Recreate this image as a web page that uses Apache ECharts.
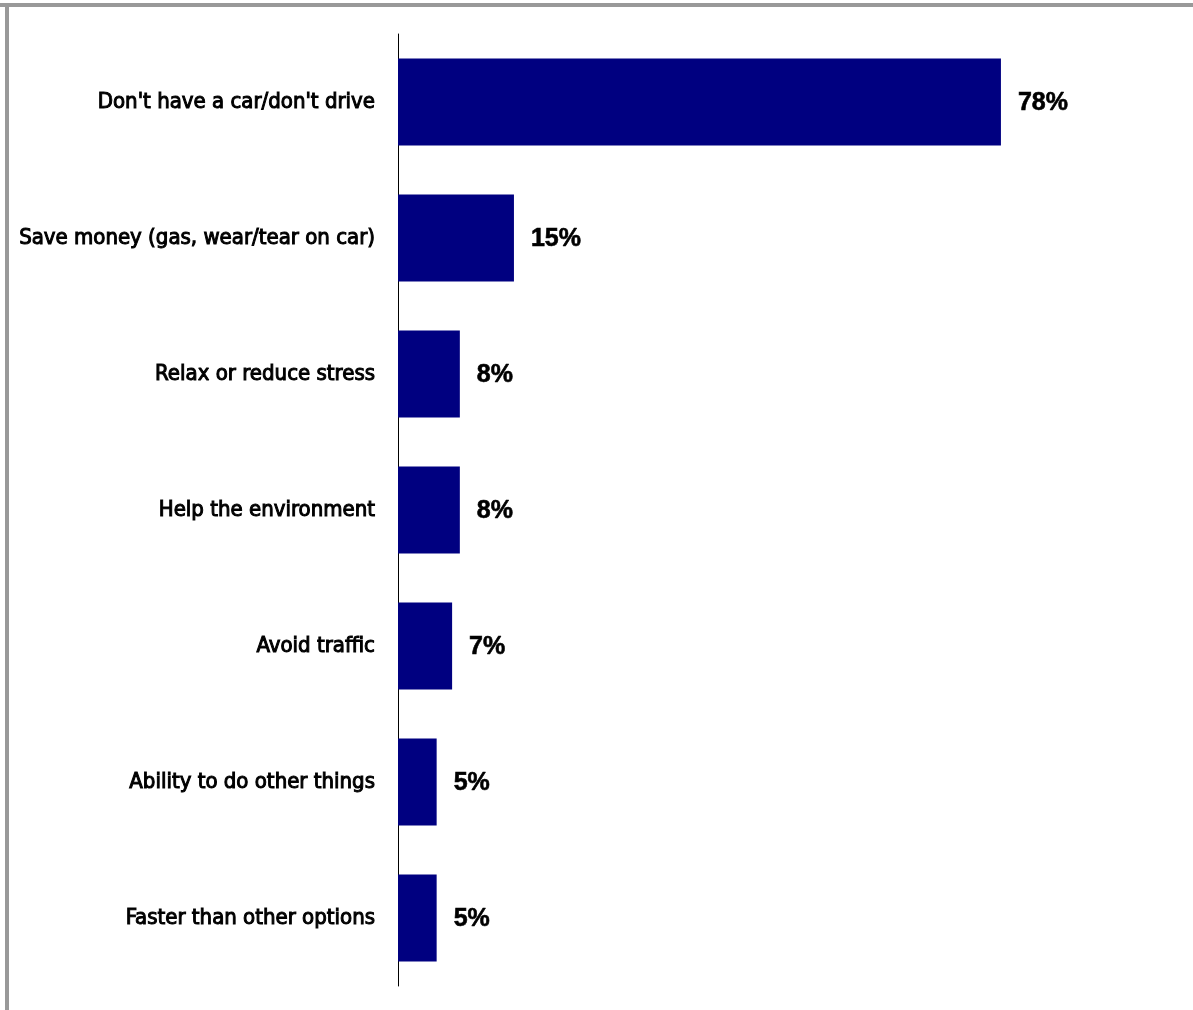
<!DOCTYPE html>
<html>
<head>
<meta charset="utf-8">
<script src="https://cdn.jsdelivr.net/npm/echarts@6/dist/echarts.min.js"></script>
<style>
  html, body { margin: 0; padding: 0; background: #fff; }
  #chart { width: 1193px; height: 1010px; }
</style>
</head>
<body>
<div id="chart"></div>
<script>
// Reasons given, top to bottom
const reasons = [
  "Don't have a car/don't drive",
  "Save money (gas, wear/tear on car)",
  "Relax or reduce stress",
  "Help the environment",
  "Avoid traffic",
  "Ability to do other things",
  "Faster than other options"
];
// Share of respondents (%)
const shares = [78, 15, 8, 8, 7, 5, 5];

const chart = echarts.init(document.getElementById('chart'), null, { renderer: 'canvas' });

chart.setOption({
  animation: false,
  backgroundColor: '#ffffff',
  graphic: [
    // frame edges along the top and left
    { type: 'rect', shape: { x: 0, y: 3, width: 1193, height: 4 }, style: { fill: '#999999' }, silent: true },
    { type: 'rect', shape: { x: 5, y: 3, width: 4, height: 1007 }, style: { fill: '#999999' }, silent: true }
  ],
  grid: { left: 398, right: 22, top: 34, bottom: 24, containLabel: false },
  xAxis: {
    type: 'value',
    min: 0,
    max: 100,
    show: false
  },
  yAxis: {
    type: 'category',
    data: reasons,
    inverse: true,
    axisLine: { show: true, lineStyle: { color: '#000000', width: 1 } },
    axisTick: { show: false },
    splitLine: { show: false },
    axisLabel: {
      margin: 23,
      color: '#000000',
      fontFamily: '"DejaVu Sans Condensed", "Roboto Condensed", sans-serif',
      fontWeight: 'normal',
      fontSize: 22,
      textBorderColor: '#000000',
      textBorderWidth: 1
    }
  },
  series: [{
    type: 'bar',
    data: shares,
    barWidth: '64%',
    itemStyle: { color: '#000080' },
    label: {
      show: true,
      position: 'right',
      distance: 17,
      offset: [0, 1],
      formatter: '{c}%',
      color: '#000000',
      fontFamily: '"Liberation Sans", Arial, sans-serif',
      fontWeight: 'bold',
      fontSize: 25,
      textBorderColor: '#000000',
      textBorderWidth: 0.6
    }
  }]
});
</script>
</body>
</html>
